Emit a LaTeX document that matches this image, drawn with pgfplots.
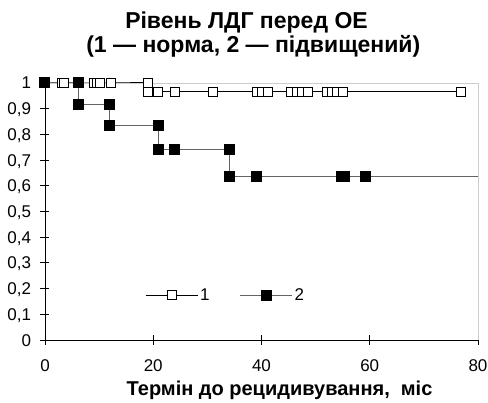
\documentclass[border=0pt]{standalone}
\usepackage{fontspec}
\setmainfont{Liberation Sans}
\usepackage{pgfplots}
\pgfplotsset{compat=1.18}

\definecolor{frame}{RGB}{205,205,205}
\definecolor{line2}{RGB}{100,100,100}

\begin{document}
\begin{tikzpicture}
\useasboundingbox (-45bp,-63bp) rectangle (443bp,340bp);
\begin{axis}[
    at={(0,0)}, anchor=south west,
    scale only axis,
    width=433bp, height=257bp,
    xmin=0, xmax=80,
    ymin=0, ymax=1,
    xtick={0,20,40,60,80},
    ytick={0,0.1,0.2,0.3,0.4,0.5,0.6,0.7,0.8,0.9,1},
    axis x line*=bottom,
    axis y line*=left,
    axis line style={black, line width=0.8bp},
    tick style={black, line width=0.8bp},
    tick align=center,
    major tick length=9bp,
    ticklabel style={font=\fontsize{17bp}{19bp}\selectfont},
    xticklabel style={anchor=base, yshift=-27bp},
    yticklabel style={anchor=base east, xshift=-6bp, yshift=-6bp},
    /pgf/number format/assume math mode=true,
    /pgf/number format/use comma,
    yticklabel style={/pgf/number format/fixed, /pgf/number format/precision=1},
    clip=false,
    legend style={draw=none, fill=none, inner sep=0pt,
        at={(0.231,0.175)}, anchor=west,
        font=\fontsize{17bp}{19bp}\selectfont,
        nodes={inner sep=2bp},
        /tikz/every even column/.append style={column sep=28bp}},
    legend columns=2,
    legend image code/.code={
        \draw[mark repeat=2, mark phase=2, #1]
            plot coordinates {(0bp,0bp) (26bp,0bp) (52bp,0bp)};},
]
\draw[frame, line width=0.8bp] (rel axis cs:0,1) -- (rel axis cs:1,1) -- (rel axis cs:1,0);

% 1 - норма
\addplot[black, line width=1bp, mark=square*, mark size=4.5bp,
    mark options={fill=white, draw=black, line width=0.9bp}]
coordinates {
(0,1)(3.1,1)(3.5,1)(9,1)(9.6,1)(10.2,1)(12.2,1)(19.1,1)
(19.1,0.967)(20.9,0.967)(24,0.967)(31,0.967)
(39.1,0.967)(40.1,0.967)(41.1,0.967)
(45.5,0.967)(46.5,0.967)(47.5,0.967)(48.5,0.967)
(52.1,0.967)(53,0.967)(54,0.967)(55.1,0.967)
(76.8,0.967)
};
\addlegendentry{1}

% 2 - підвищений
\addplot[line2, line width=1bp, mark=square*, mark size=5bp,
    mark options={fill=black, draw=black}]
coordinates {
(0,1)(6.2,1)(6.2,0.917)(12,0.917)(12,0.833)(20.9,0.833)
(20.9,0.741)(24,0.741)(34,0.741)(34,0.635)(39,0.635)
(54.7,0.635)(55.3,0.635)(59.3,0.635)
};
\addlegendentry{2}
\addplot[line2, line width=1bp, forget plot] coordinates {(59.3,0.635)(80,0.635)};
\end{axis}
\node[anchor=base, font=\bfseries\fontsize{23bp}{26bp}\selectfont] at (201.5bp,311.5bp) {Рівень ЛДГ перед ОЕ};
\node[anchor=base, font=\bfseries\fontsize{23bp}{26bp}\selectfont] at (208.3bp,287.3bp) {(1 — норма, 2 — підвищений)};
\node[anchor=base, font=\bfseries\fontsize{20bp}{23bp}\selectfont] at (234.5bp,-55bp) {Термін до рецидивування,\ \ міс};
\end{tikzpicture}
\end{document}
